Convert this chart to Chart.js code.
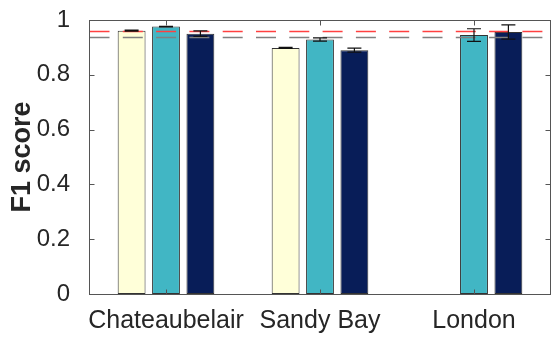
<!DOCTYPE html>
<html>
<head>
<meta charset="utf-8">
<script src="https://cdn.jsdelivr.net/npm/chart.js@4/dist/chart.umd.min.js"></script>
<style>
  html, body { margin: 0; padding: 0; background: #fff; }
  #wrap { width: 552px; height: 338px; }
</style>
</head>
<body>
<div id="wrap"><canvas id="myChart" width="552" height="338"></canvas></div>
<script>
// sites on the x axis
const sites = ['Chateaubelair', 'Sandy Bay', 'London'];

// F1 score per method (null = no bar)
const method1 = [0.961, 0.898, null];
const method2 = [0.976, 0.929, 0.945];
const method3 = [0.950, 0.890, 0.956];

// half length of error bars
const err1 = [0.002, 0.002, null];
const err2 = [0.001, 0.006, 0.023];
const err3 = [0.010, 0.007, 0.026];

// dashed reference levels
const refRed = 0.961;
const refGray = 0.938;

const yTicks = [0, 0.2, 0.4, 0.6, 0.8, 1];

const axisColor = '#555';
const textColor = '#262626';
const fontFam = 'Liberation Sans, Arial, Helvetica, sans-serif';

// frame, inward ticks, dashed lines, error bars
const extras = {
    id: 'extras',
    afterDatasetsDraw(chart) {
        const ctx = chart.ctx;
        const a = chart.chartArea;
        const xs = chart.scales.x, ys = chart.scales.y;
        const L = Math.round(a.left) + 0.5, R = Math.round(a.right) - 0.5;
        const T = Math.round(a.top) + 0.5, B = Math.round(a.bottom) + 0.5;

        // dashed reference lines
        ctx.save();
        ctx.lineWidth = 1.4;
        ctx.setLineDash([20, 13.3]);
        [[refRed, '#ff4040'], [refGray, '#808080']].forEach(r => {
            let y = Math.round(ys.getPixelForValue(r[0])) + 0.5;
            ctx.strokeStyle = r[1];
            ctx.beginPath();
            ctx.moveTo(L, y);
            ctx.lineTo(R, y);
            ctx.stroke();
        });
        ctx.restore();

        // error bars
        const errs = [err1, err2, err3];
        ctx.save();
        ctx.strokeStyle = '#111';
        ctx.lineWidth = 1.2;
        chart.data.datasets.forEach((ds, di) => {
            const meta = chart.getDatasetMeta(di);
            meta.data.forEach((bar, i) => {
                const v = ds.data[i];
                const e = errs[di][i];
                if (v == null || e == null) return;
                const x = bar.x;
                const y1 = ys.getPixelForValue(v + e);
                const y2 = ys.getPixelForValue(v - e);
                const c = 7;
                ctx.beginPath();
                ctx.moveTo(x, y1); ctx.lineTo(x, y2);
                ctx.moveTo(x - c, y1); ctx.lineTo(x + c, y1);
                ctx.moveTo(x - c, y2); ctx.lineTo(x + c, y2);
                ctx.stroke();
            });
        });
        ctx.restore();

        // box and ticks
        ctx.save();
        ctx.strokeStyle = axisColor;
        ctx.lineWidth = 1;
        ctx.strokeRect(L, T, R - L, B - T);
        const tl = 5;
        ctx.beginPath();
        yTicks.forEach(t => {
            let y = Math.round(ys.getPixelForValue(t)) + 0.5;
            ctx.moveTo(L, y); ctx.lineTo(L + tl, y);
            ctx.moveTo(R, y); ctx.lineTo(R - tl, y);
        });
        sites.forEach((s, i) => {
            let x = Math.round(xs.getPixelForValue(i)) + 0.5;
            ctx.moveTo(x, B); ctx.lineTo(x, B - tl);
            ctx.moveTo(x, T); ctx.lineTo(x, T + tl);
        });
        ctx.stroke();
        ctx.restore();
    }
};

const barStyle = {
    borderColor: '#333',
    borderWidth: 1,
    borderSkipped: false,
    categoryPercentage: 0.67,
    barPercentage: 0.81
};

new Chart(document.getElementById('myChart'), {
    type: 'bar',
    data: {
        labels: sites,
        datasets: [
            Object.assign({ data: method1, backgroundColor: '#ffffd9' }, barStyle),
            Object.assign({ data: method2, backgroundColor: '#41b6c4' }, barStyle),
            Object.assign({ data: method3, backgroundColor: '#081d58' }, barStyle)
        ]
    },
    options: {
        responsive: false,
        animation: false,
        layout: { padding: { top: 20, right: 1, left: 0, bottom: 0 } },
        plugins: { legend: { display: false }, tooltip: { enabled: false } },
        scales: {
            x: {
                grid: { display: false },
                border: { display: false },
                ticks: {
                    color: textColor,
                    padding: 4,
                    maxRotation: 0,
                    autoSkip: false,
                    font: { family: fontFam, size: 25 }
                },
                afterFit(scale) {
                    scale.height = 44;
                    scale.paddingLeft = 0;
                    scale.paddingRight = 0;
                }
            },
            y: {
                min: 0,
                max: 1,
                grid: { display: false },
                border: { display: false },
                ticks: {
                    stepSize: 0.2,
                    color: textColor,
                    padding: 11,
                    font: { family: fontFam, size: 24 },
                    callback: v => String(+v.toFixed(1))
                },
                title: {
                    display: true,
                    text: 'F1 score',
                    color: textColor,
                    padding: { top: 6, bottom: 0 },
                    font: { family: fontFam, size: 27, weight: 'bold' }
                },
                afterFit(scale) {
                    scale.width = 89;
                    scale.paddingTop = 0;
                    scale.paddingBottom = 0;
                }
            }
        }
    },
    plugins: [extras]
});
</script>
</body>
</html>
